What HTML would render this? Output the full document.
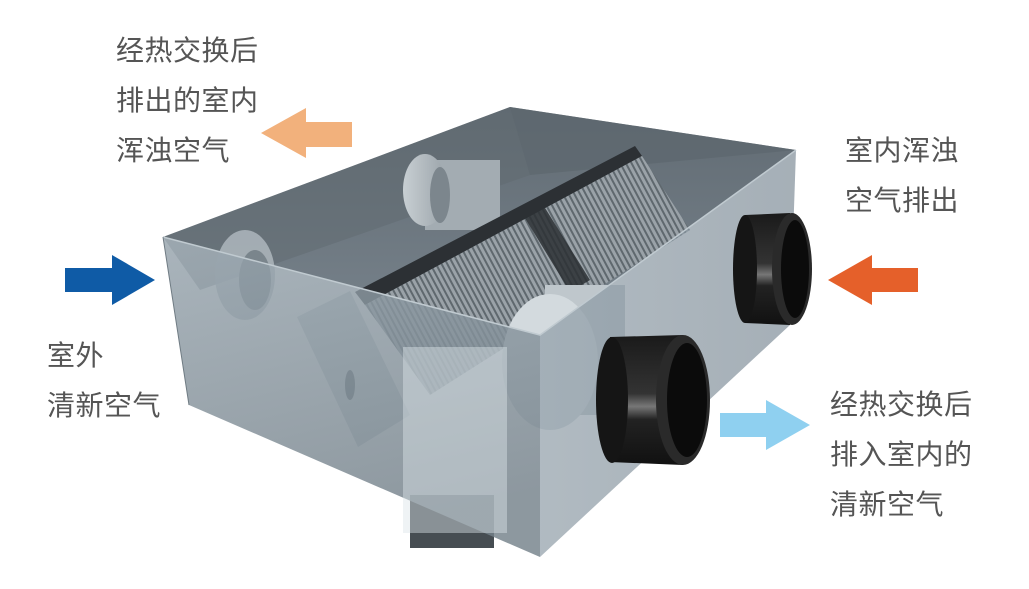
<!DOCTYPE html>
<html><head><meta charset="utf-8"><style>
html,body{margin:0;padding:0;background:#fff;}
body{width:1029px;height:589px;overflow:hidden;position:relative;font-family:"Liberation Sans","Noto Sans CJK SC",sans-serif;}
.t{position:absolute;font-size:28px;color:#555;line-height:50px;letter-spacing:0.5px;}
svg{position:absolute;left:0;top:0;}
</style></head><body>
<svg width="1029" height="589" viewBox="0 0 1029 589">
<defs>
<linearGradient id="lf" x1="0" y1="0" x2="0.3" y2="1"><stop offset="0" stop-color="#97a4ad"/><stop offset="1" stop-color="#74818a"/></linearGradient>
<linearGradient id="rf" x1="0" y1="0" x2="1" y2="0"><stop offset="0" stop-color="#8f9da7"/><stop offset="1" stop-color="#7f8d98"/></linearGradient>
<linearGradient id="tp" x1="0" y1="0" x2="0" y2="1"><stop offset="0" stop-color="#616b73"/><stop offset="1" stop-color="#78838c"/></linearGradient>
<linearGradient id="blk" x1="0" y1="0" x2="0" y2="1"><stop offset="0" stop-color="#1a1a1a"/><stop offset="0.45" stop-color="#333"/><stop offset="0.55" stop-color="#777"/><stop offset="0.65" stop-color="#222"/><stop offset="1" stop-color="#111"/></linearGradient>
<linearGradient id="fan" x1="0" y1="0" x2="1" y2="0"><stop offset="0" stop-color="#c8cfd3"/><stop offset="1" stop-color="#9aa3a9"/></linearGradient>
<pattern id="fins" width="5" height="10" patternUnits="userSpaceOnUse" patternTransform="rotate(-28)"><rect width="5" height="10" fill="#9aa2a8"/><rect width="2" height="10" fill="#5f686e"/></pattern>
</defs>
<polygon points="261,133 306,108 306,122 352,122 352,147 306,147 306,158" fill="#f2b17c"/>
<polygon points="155,280 112,255 112,268 65,268 65,292 112,292 112,305" fill="#0f5ba6"/>
<polygon points="828,280 872,255 872,268 918,268 918,292 872,292 872,305" fill="#e5602a"/>
<polygon points="810,425 766,400 766,413 720,413 720,437 766,437 766,450" fill="#8fd0f0"/>
<rect x="410" y="495" width="84" height="53" fill="#464d52"/>
<polygon points="163,237 510,107 796,150 540,335" fill="url(#tp)"/>
<polygon points="510,107 530,175 796,150" fill="#5c666e" opacity="0.7"/>
<polygon points="163,237 510,107 530,175 200,290" fill="#5f6970" opacity="0.5"/>
<rect x="425" y="160" width="75" height="70" fill="#a3acb2"/>
<ellipse cx="425" cy="190" rx="22" ry="36" fill="url(#fan)"/>
<ellipse cx="440" cy="195" rx="10" ry="28" fill="#7c868d"/>
<polygon points="355,292 635,146 642,156 365,305" fill="#2c3034"/>
<polygon points="365,305 642,156 690,230 430,395" fill="url(#fins)"/>
<polygon points="525,218 545,208 590,280 570,292" fill="#2c3034" opacity="0.85"/>
<ellipse cx="245" cy="275" rx="30" ry="45" fill="#b3bcc2" opacity="0.8"/>
<ellipse cx="255" cy="280" rx="16" ry="30" fill="#7a858c"/>
<polygon points="297,317 350,291 410,415 358,447" fill="#c9d1d5" opacity="0.9"/>
<ellipse cx="350" cy="385" rx="5" ry="15" fill="#5f6a71"/>
<rect x="545" y="285" width="80" height="130" fill="#bfc7cc"/>
<ellipse cx="550" cy="362" rx="48" ry="68" fill="#d3dade"/>
<polygon points="163,237 540,335 540,557 189,405" fill="url(#lf)" opacity="0.82"/>
<polygon points="540,335 796,150 790,325 540,557" fill="url(#rf)" opacity="0.7"/>
<polyline points="163,237 540,335 796,150" fill="none" stroke="#c0cad0" stroke-width="1.5"/>
<line x1="163" y1="237" x2="189" y2="405" stroke="#6f7b83" stroke-width="1"/>
<rect x="403" y="347" width="104" height="186" fill="#dbe4e8" opacity="0.45"/>
<path d="M745,215 L790,213 L790,325 L745,323 Z" fill="url(#blk)"/>
<ellipse cx="745" cy="269" rx="12" ry="54" fill="#151515"/>
<ellipse cx="792" cy="269" rx="20" ry="56" fill="#2a2a2a"/>
<ellipse cx="795" cy="269" rx="14" ry="49" fill="#0b0b0b"/>
<path d="M610,337 L683,335 L683,465 L610,462 Z" fill="url(#blk)"/>
<ellipse cx="612" cy="400" rx="16" ry="63" fill="#151515"/>
<ellipse cx="683" cy="400" rx="27" ry="65" fill="#2a2a2a"/>
<ellipse cx="687" cy="400" rx="20" ry="57" fill="#0b0b0b"/>
</svg>
<div class="t" style="left:116px;top:26px;">经热交换后<br>排出的室内<br>浑浊空气</div>
<div class="t" style="left:845px;top:126px;">室内浑浊<br>空气排出</div>
<div class="t" style="left:47px;top:331px;">室外<br>清新空气</div>
<div class="t" style="left:830px;top:380px;">经热交换后<br>排入室内的<br>清新空气</div>
</body></html>
